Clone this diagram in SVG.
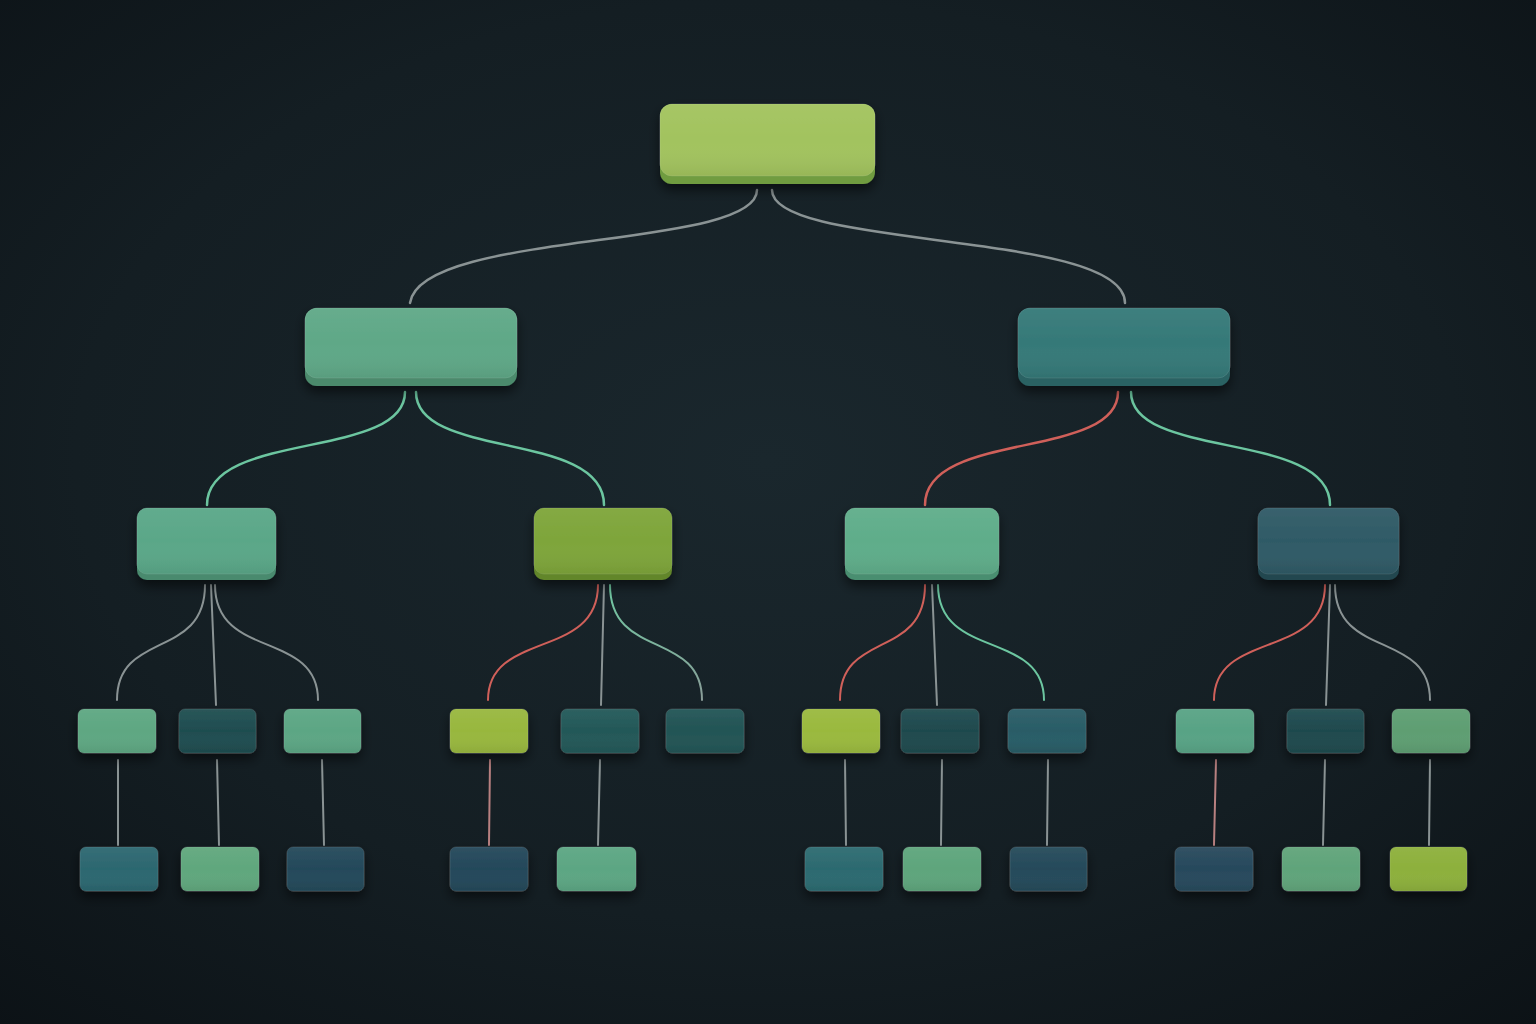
<svg xmlns="http://www.w3.org/2000/svg" width="1536" height="1024" viewBox="0 0 1536 1024">
<defs>
<radialGradient id="bg" cx="50%" cy="45%" r="75%">
<stop offset="0" stop-color="#1a272d"/>
<stop offset="0.6" stop-color="#141e23"/>
<stop offset="1" stop-color="#0c1216"/>
</radialGradient>
<linearGradient id="sheen" x1="0" y1="0" x2="0" y2="1">
<stop offset="0" stop-color="#ffffff" stop-opacity="0.05"/>
<stop offset="0.5" stop-color="#ffffff" stop-opacity="0.0"/>
<stop offset="1" stop-color="#000000" stop-opacity="0.07"/>
</linearGradient>
<filter id="sh" x="-20%" y="-30%" width="140%" height="170%">
<feDropShadow dx="0" dy="6" stdDeviation="6" flood-color="#000" flood-opacity="0.55"/>
</filter>
<linearGradient id="mintgray" x1="0" y1="0" x2="0" y2="1">
<stop offset="0" stop-color="#6fcaa2"/>
<stop offset="1" stop-color="#8a9c98"/>
</linearGradient>
</defs>
<style>
.c{fill:none;stroke-linecap:round}
.g{stroke:#8a9394;stroke-width:2.5}
.m{stroke:#6cc6a0;stroke-width:2.5}
.r{stroke:#d0605a;stroke-width:2.5}
.mg{stroke:url(#mintgray);stroke-width:2.5}
.s{stroke-width:2}
.p{stroke:#b88080}
.face{stroke:#ffffff;stroke-opacity:0.10;stroke-width:1}
.gl{fill:url(#sheen)}
</style>
<rect width="1536" height="1024" fill="url(#bg)"/>

<g id="connectors">
<path class="c g" d="M757 190 C757 250 420 230 410 303"/>
<path class="c g" d="M772 190 C772 250 1125 230 1125 303"/>
<path class="c m" d="M405 392 C405 460 207 430 207 505"/>
<path class="c m" d="M416 392 C416 460 604 430 604 505"/>
<path class="c r" d="M1118 392 C1118 460 925 430 925 505"/>
<path class="c m" d="M1131 392 C1131 460 1330 430 1330 505"/>

<path class="c g s" d="M205 585 C205 660 117 630 117 700"/>
<path class="c g s" d="M211 585 L216 705"/>
<path class="c g s" d="M215 585 C215 660 318 630 318 700"/>

<path class="c r s" d="M598 585 C598 660 488 630 488 700"/>
<path class="c g s" d="M604 585 L601 705"/>
<path class="c mg s" d="M610 585 C610 660 702 630 702 700"/>

<path class="c r s" d="M925 585 C925 660 840 630 840 700"/>
<path class="c g s" d="M932 585 L937 705"/>
<path class="c m s" d="M938 585 C938 660 1044 630 1044 700"/>

<path class="c r s" d="M1325 585 C1325 660 1214 630 1214 700"/>
<path class="c g s" d="M1330 585 L1326 705"/>
<path class="c g s" d="M1335 585 C1335 660 1430 630 1430 700"/>

<path class="c g s" d="M118 760 L118 845"/>
<path class="c g s" d="M217 760 L219 845"/>
<path class="c g s" d="M322 760 L324 845"/>
<path class="c p s" d="M490 760 L489 845"/>
<path class="c g s" d="M600 760 L598 845"/>
<path class="c g s" d="M845 760 L846 845"/>
<path class="c g s" d="M942 760 L941 845"/>
<path class="c g s" d="M1048 760 L1047 845"/>
<path class="c p s" d="M1216 760 L1214 845"/>
<path class="c g s" d="M1325 760 L1323 845"/>
<path class="c g s" d="M1430 760 L1429 845"/>
</g>

<g id="root" filter="url(#sh)">
<rect x="660" y="104" width="215" height="80" rx="12" fill="#6f9c3f"/>
<rect class="face" x="660" y="104" width="215" height="72" rx="12" fill="#a2c35e"/>
<rect class="gl" x="660" y="104" width="215" height="72" rx="12"/>
</g>

<g id="n-l1-left" filter="url(#sh)">
<rect x="305" y="308" width="212" height="78" rx="12" fill="#4b8a6c"/>
<rect class="face" x="305" y="308" width="212" height="70" rx="12" fill="#5fa887"/>
<rect class="gl" x="305" y="308" width="212" height="70" rx="12"/>
</g>
<g id="n-l1-right" filter="url(#sh)">
<rect x="1018" y="308" width="212" height="78" rx="12" fill="#2a6264"/>
<rect class="face" x="1018" y="308" width="212" height="70" rx="12" fill="#357978"/>
<rect class="gl" x="1018" y="308" width="212" height="70" rx="12"/>
</g>

<g id="n-a" filter="url(#sh)">
<rect x="137" y="508" width="139" height="72" rx="10" fill="#488a6e"/>
<rect class="face" x="137" y="508" width="139" height="66" rx="10" fill="#5aa788"/>
<rect class="gl" x="137" y="508" width="139" height="66" rx="10"/>
</g>
<g id="n-b" filter="url(#sh)">
<rect x="534" y="508" width="138" height="72" rx="10" fill="#62862c"/>
<rect class="face" x="534" y="508" width="138" height="66" rx="10" fill="#7ea53a"/>
<rect class="gl" x="534" y="508" width="138" height="66" rx="10"/>
</g>
<g id="n-c" filter="url(#sh)">
<rect x="845" y="508" width="154" height="72" rx="10" fill="#4a8e70"/>
<rect class="face" x="845" y="508" width="154" height="66" rx="10" fill="#5fad8a"/>
<rect class="gl" x="845" y="508" width="154" height="66" rx="10"/>
</g>
<g id="n-d" filter="url(#sh)">
<rect x="1258" y="508" width="141" height="72" rx="10" fill="#24474f"/>
<rect class="face" x="1258" y="508" width="141" height="66" rx="10" fill="#2f5a66"/>
<rect class="gl" x="1258" y="508" width="141" height="66" rx="10"/>
</g>

<g id="n-a1" filter="url(#sh)"><rect class="face" x="78" y="709" width="78" height="44" rx="6" fill="#5ea782"/><rect class="gl" x="78" y="709" width="78" height="44" rx="6"/></g>
<g id="n-a2" filter="url(#sh)"><rect class="face" x="179" y="709" width="77" height="44" rx="6" fill="#1f4d50"/><rect class="gl" x="179" y="709" width="77" height="44" rx="6"/></g>
<g id="n-a3" filter="url(#sh)"><rect class="face" x="284" y="709" width="77" height="44" rx="6" fill="#5ca684"/><rect class="gl" x="284" y="709" width="77" height="44" rx="6"/></g>
<g id="n-b1" filter="url(#sh)"><rect class="face" x="450" y="709" width="78" height="44" rx="6" fill="#98b73e"/><rect class="gl" x="450" y="709" width="78" height="44" rx="6"/></g>
<g id="n-b2" filter="url(#sh)"><rect class="face" x="561" y="709" width="78" height="44" rx="6" fill="#235858"/><rect class="gl" x="561" y="709" width="78" height="44" rx="6"/></g>
<g id="n-b3" filter="url(#sh)"><rect class="face" x="666" y="709" width="78" height="44" rx="6" fill="#225455"/><rect class="gl" x="666" y="709" width="78" height="44" rx="6"/></g>
<g id="n-c1" filter="url(#sh)"><rect class="face" x="802" y="709" width="78" height="44" rx="6" fill="#9ab93e"/><rect class="gl" x="802" y="709" width="78" height="44" rx="6"/></g>
<g id="n-c2" filter="url(#sh)"><rect class="face" x="901" y="709" width="78" height="44" rx="6" fill="#1f4a4e"/><rect class="gl" x="901" y="709" width="78" height="44" rx="6"/></g>
<g id="n-c3" filter="url(#sh)"><rect class="face" x="1008" y="709" width="78" height="44" rx="6" fill="#295c66"/><rect class="gl" x="1008" y="709" width="78" height="44" rx="6"/></g>
<g id="n-d1" filter="url(#sh)"><rect class="face" x="1176" y="709" width="78" height="44" rx="6" fill="#58a385"/><rect class="gl" x="1176" y="709" width="78" height="44" rx="6"/></g>
<g id="n-d2" filter="url(#sh)"><rect class="face" x="1287" y="709" width="77" height="44" rx="6" fill="#1f4a4e"/><rect class="gl" x="1287" y="709" width="77" height="44" rx="6"/></g>
<g id="n-d3" filter="url(#sh)"><rect class="face" x="1392" y="709" width="78" height="44" rx="6" fill="#5e9e72"/><rect class="gl" x="1392" y="709" width="78" height="44" rx="6"/></g>

<g id="n-a1a" filter="url(#sh)"><rect class="face" x="80" y="847" width="78" height="44" rx="6" fill="#2c6770"/><rect class="gl" x="80" y="847" width="78" height="44" rx="6"/></g>
<g id="n-a2a" filter="url(#sh)"><rect class="face" x="181" y="847" width="78" height="44" rx="6" fill="#60a77d"/><rect class="gl" x="181" y="847" width="78" height="44" rx="6"/></g>
<g id="n-a3a" filter="url(#sh)"><rect class="face" x="287" y="847" width="77" height="44" rx="6" fill="#24495a"/><rect class="gl" x="287" y="847" width="77" height="44" rx="6"/></g>
<g id="n-b1a" filter="url(#sh)"><rect class="face" x="450" y="847" width="78" height="44" rx="6" fill="#24485a"/><rect class="gl" x="450" y="847" width="78" height="44" rx="6"/></g>
<g id="n-b2a" filter="url(#sh)"><rect class="face" x="557" y="847" width="79" height="44" rx="6" fill="#5ca683"/><rect class="gl" x="557" y="847" width="79" height="44" rx="6"/></g>
<g id="n-c1a" filter="url(#sh)"><rect class="face" x="805" y="847" width="78" height="44" rx="6" fill="#2c6a70"/><rect class="gl" x="805" y="847" width="78" height="44" rx="6"/></g>
<g id="n-c2a" filter="url(#sh)"><rect class="face" x="903" y="847" width="78" height="44" rx="6" fill="#5ea57c"/><rect class="gl" x="903" y="847" width="78" height="44" rx="6"/></g>
<g id="n-c3a" filter="url(#sh)"><rect class="face" x="1010" y="847" width="77" height="44" rx="6" fill="#254a5a"/><rect class="gl" x="1010" y="847" width="77" height="44" rx="6"/></g>
<g id="n-d1a" filter="url(#sh)"><rect class="face" x="1175" y="847" width="78" height="44" rx="6" fill="#27495c"/><rect class="gl" x="1175" y="847" width="78" height="44" rx="6"/></g>
<g id="n-d2a" filter="url(#sh)"><rect class="face" x="1282" y="847" width="78" height="44" rx="6" fill="#60a47a"/><rect class="gl" x="1282" y="847" width="78" height="44" rx="6"/></g>
<g id="n-d3a" filter="url(#sh)"><rect class="face" x="1390" y="847" width="77" height="44" rx="6" fill="#8db03c"/><rect class="gl" x="1390" y="847" width="77" height="44" rx="6"/></g>
</svg>
